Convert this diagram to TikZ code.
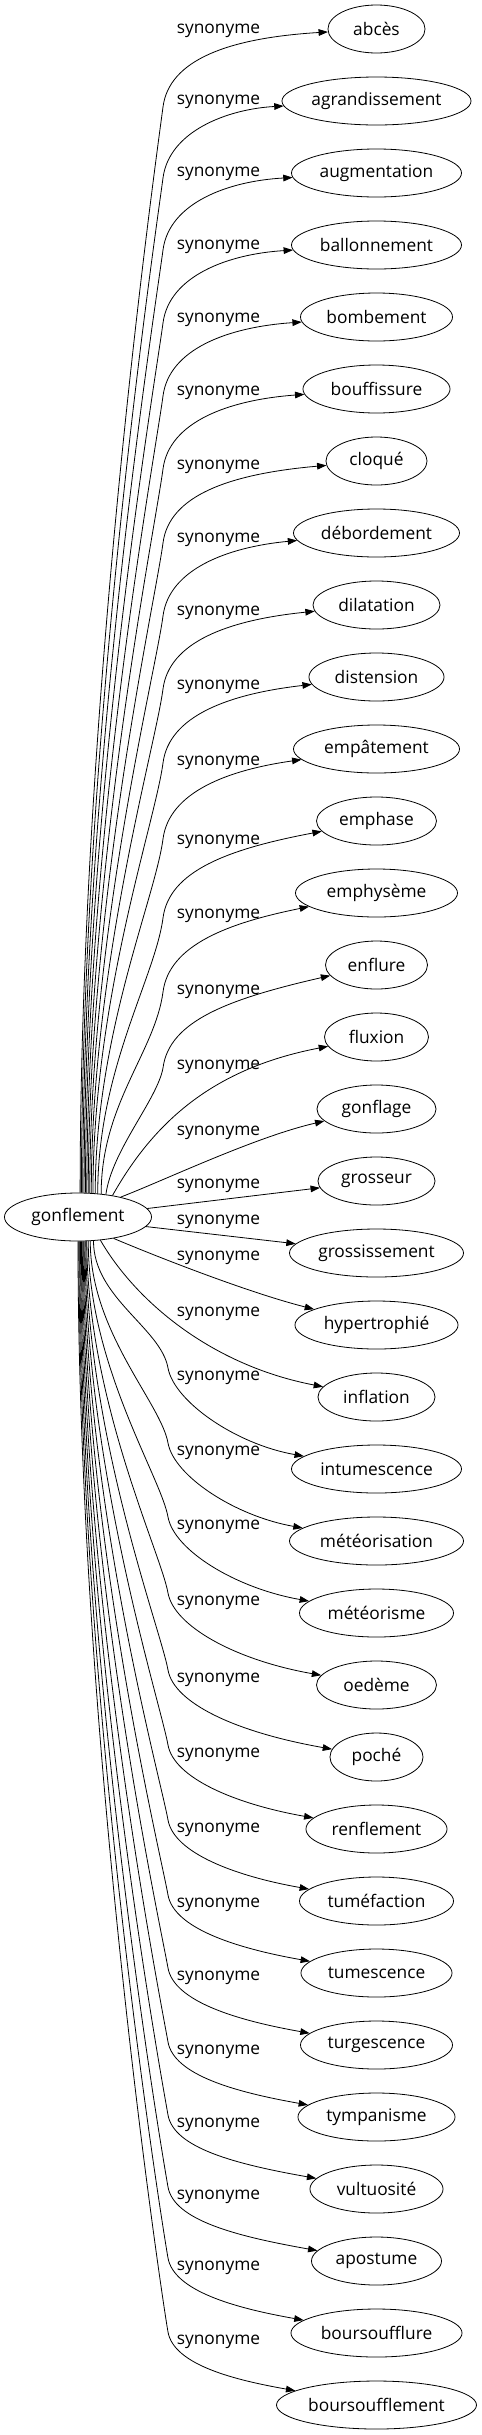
\documentclass[tikz,border=0pt]{standalone}
\usepackage{fontspec}
\setmainfont{Open Sans}
\usetikzlibrary{shapes.geometric,arrows.meta}

\begin{document}
\begin{tikzpicture}[x=0.75pt,y=-0.75pt,>={Triangle[length=7pt,width=5pt]},line width=0.6pt,
		every node/.style={font=\fontsize{13}{15}\selectfont},
		word/.style={draw,ellipse,inner sep=0pt,minimum height=36pt}]
			\useasboundingbox (0,0) rectangle (482,2435);
			% source
			\node[word,minimum width=110.3pt] (g) at (78,1217) {gonflement};
			% targets
			\node[word,minimum width=72.8pt] (abces) at (376.5,29) {abcès};
			\node[word,minimum width=141.8pt] (agrandissement) at (376.5,101) {agrandissement};
			\node[word,minimum width=127.5pt] (augmentation) at (376.5,173) {augmentation};
			\node[word,minimum width=127.5pt] (ballonnement) at (376.5,245) {ballonnement};
			\node[word,minimum width=114pt] (bombement) at (376.5,317) {bombement};
			\node[word,minimum width=110.3pt] (bouffissure) at (376.5,389) {bouffissure};
			\node[word,minimum width=75.8pt] (cloque) at (376.5,461) {cloqué};
			\node[word,minimum width=124.5pt] (debordement) at (376.5,533) {débordement};
			\node[word,minimum width=95.3pt] (dilatation) at (376.5,605) {dilatation};
			\node[word,minimum width=101.3pt] (distension) at (376.5,677) {distension};
			\node[word,minimum width=124.5pt] (empatement) at (376.5,749) {empâtement};
			\node[word,minimum width=90pt] (emphase) at (376.5,821) {emphase};
			\node[word,minimum width=121.5pt] (emphyseme) at (376.5,893) {emphysème};
			\node[word,minimum width=76.5pt] (enflure) at (376.5,965) {enflure};
			\node[word,minimum width=78pt] (fluxion) at (376.5,1037) {fluxion};
			\node[word,minimum width=89.3pt] (gonflage) at (376.5,1109) {gonflage};
			\node[word,minimum width=87.8pt] (grosseur) at (376.5,1181) {grosseur};
			\node[word,minimum width=130.5pt] (grossissement) at (376.5,1253) {grossissement};
			\node[word,minimum width=122.3pt] (hypertrophie) at (376.5,1325) {hypertrophié};
			\node[word,minimum width=87.8pt] (inflation) at (376.5,1397) {inflation};
			\node[word,minimum width=127.5pt] (intumescence) at (376.5,1469) {intumescence};
			\node[word,minimum width=130.5pt] (meteorisation) at (376.5,1541) {météorisation};
			\node[word,minimum width=115.5pt] (meteorisme) at (376.5,1613) {météorisme};
			\node[word,minimum width=90pt] (oedeme) at (376.5,1685) {oedème};
			\node[word,minimum width=69.8pt] (poche) at (376.5,1757) {poché};
			\node[word,minimum width=105.8pt] (renflement) at (376.5,1829) {renflement};
			\node[word,minimum width=115.5pt] (tumefaction) at (376.5,1901) {tuméfaction};
			\node[word,minimum width=113.3pt] (tumescence) at (376.5,1973) {tumescence};
			\node[word,minimum width=114pt] (turgescence) at (376.5,2045) {turgescence};
			\node[word,minimum width=117.8pt] (tympanisme) at (376.5,2117) {tympanisme};
			\node[word,minimum width=99.8pt] (vultuosite) at (376.5,2189) {vultuosité};
			\node[word,minimum width=97.5pt] (apostume) at (376.5,2261) {apostume};
			\node[word,minimum width=128.3pt] (boursoufflure) at (376.5,2333) {boursoufflure};
			\node[word,minimum width=150pt] (boursoufflement) at (376.5,2405) {boursoufflement};
			% labels
			\node (s0) at (218.5,31) {synonyme};
			\node (s1) at (218.5,102) {synonyme};
			\node (s2) at (218.5,174) {synonyme};
			\node (s3) at (218.5,247) {synonyme};
			\node (s4) at (218.5,320) {synonyme};
			\node (s5) at (218.5,393) {synonyme};
			\node (s6) at (218.5,467) {synonyme};
			\node (s7) at (218.5,540) {synonyme};
			\node (s8) at (218.5,613) {synonyme};
			\node (s9) at (218.5,687) {synonyme};
			\node (s10) at (218.5,763) {synonyme};
			\node (s11) at (218.5,842) {synonyme};
			\node (s12) at (218.5,916) {synonyme};
			\node (s13) at (218.5,992) {synonyme};
			\node (s14) at (218.5,1067) {synonyme};
			\node (s15) at (218.5,1133) {synonyme};
			\node (s16) at (218.5,1186) {synonyme};
			\node (s17) at (218.5,1222) {synonyme};
			\node (s18) at (218.5,1258) {synonyme};
			\node (s19) at (218.5,1314) {synonyme};
			\node (s20) at (218.5,1378) {synonyme};
			\node (s21) at (218.5,1453) {synonyme};
			\node (s22) at (218.5,1527) {synonyme};
			\node (s23) at (218.5,1603) {synonyme};
			\node (s24) at (218.5,1680) {synonyme};
			\node (s25) at (218.5,1755) {synonyme};
			\node (s26) at (218.5,1830) {synonyme};
			\node (s27) at (218.5,1905) {synonyme};
			\node (s28) at (218.5,1978) {synonyme};
			\node (s29) at (218.5,2052) {synonyme};
			\node (s30) at (218.5,2125) {synonyme};
			\node (s31) at (218.5,2197) {synonyme};
			\node (s32) at (218.5,2268) {synonyme};
			\node (s33) at (218.5,2342) {synonyme};
			% edges going up
			\draw[->] (g.85) .. controls +(0,-489) and (155,167) .. (163,107) .. controls (169,60) and (228,38) .. (abces);
			\draw[->] (g.82) .. controls +(0,-457) and (155,238) .. (163,178) .. controls (169,131) and (228,109) .. (agrandissement);
			\draw[->] (g.79) .. controls +(0,-424) and (155,310) .. (163,250) .. controls (169,203) and (228,181) .. (augmentation);
			\draw[->] (g.76) .. controls +(0,-392) and (155,383) .. (163,323) .. controls (169,276) and (228,254) .. (ballonnement);
			\draw[->] (g.73) .. controls +(0,-359) and (155,456) .. (163,396) .. controls (169,349) and (228,327) .. (bombement);
			\draw[->] (g.70) .. controls +(0,-326) and (155,529) .. (163,469) .. controls (169,422) and (228,400) .. (bouffissure);
			\draw[->] (g.67) .. controls +(0,-293) and (155,603) .. (163,543) .. controls (169,496) and (228,474) .. (cloque);
			\draw[->] (g.64) .. controls +(0,-260) and (155,676) .. (163,616) .. controls (169,569) and (228,547) .. (debordement);
			\draw[->] (g.61) .. controls +(0,-227) and (155,749) .. (163,689) .. controls (169,642) and (228,620) .. (dilatation);
			\draw[->] (g.58) .. controls +(0,-194) and (155,823) .. (163,763) .. controls (169,716) and (228,694) .. (distension);
			\draw[->] (g.54) .. controls +(0,-159) and (155,899) .. (163,839) .. controls (169,792) and (228,770) .. (empatement);
			\draw[->] (g.50) .. controls +(0,-124) and (155,978) .. (163,918) .. controls (169,871) and (228,849) .. (emphase);
			\draw[->] (g.45) .. controls +(0,-90) and (155,1052) .. (163,992) .. controls (169,945) and (228,923) .. (emphyseme);
			\draw[->] (g.39) .. controls (112,1150) and (157,1100) .. (163,1068) .. controls (169,1021) and (228,999) .. (enflure);
			\draw[->] (g.32) .. controls (155,1120) and (215,1068) .. (fluxion);
			\draw[->] (g.25) .. controls (165,1180) and (255,1137) .. (gonflage);
			\draw[->] (g.7) -- (grosseur);
			% edges going down
			\draw[->] (g.-8) -- (grossissement);
			\draw[->] (g.-31) .. controls (160,1258) and (250,1293) .. (hypertrophie);
			\draw[->] (g.-46) .. controls (135,1300) and (210,1365) .. (inflation);
			\draw[->] (g.-57) .. controls +(0,57) and (161,1328) .. (168,1368) .. controls (174,1401) and (235,1444) .. (intumescence);
			\draw[->] (g.-63) .. controls +(0,91) and (161,1403) .. (168,1443) .. controls (174,1476) and (235,1516) .. (meteorisation);
			\draw[->] (g.-67) .. controls +(0,124) and (161,1477) .. (168,1517) .. controls (174,1550) and (235,1588) .. (meteorisme);
			\draw[->] (g.-70) .. controls +(0,158) and (161,1553) .. (168,1593) .. controls (174,1626) and (235,1660) .. (oedeme);
			\draw[->] (g.-72) .. controls +(0,193) and (161,1630) .. (168,1670) .. controls (174,1703) and (235,1732) .. (poche);
			\draw[->] (g.-74) .. controls +(0,227) and (161,1705) .. (168,1745) .. controls (174,1778) and (235,1804) .. (renflement);
			\draw[->] (g.-76) .. controls +(0,261) and (161,1780) .. (168,1820) .. controls (174,1853) and (235,1876) .. (tumefaction);
			\draw[->] (g.-78) .. controls +(0,294) and (161,1855) .. (168,1895) .. controls (174,1928) and (235,1948) .. (tumescence);
			\draw[->] (g.-80) .. controls +(0,327) and (161,1928) .. (168,1968) .. controls (174,2001) and (235,2020) .. (turgescence);
			\draw[->] (g.-82) .. controls +(0,360) and (161,2002) .. (168,2042) .. controls (174,2075) and (235,2092) .. (tympanisme);
			\draw[->] (g.-84) .. controls +(0,393) and (161,2075) .. (168,2115) .. controls (174,2148) and (235,2164) .. (vultuosite);
			\draw[->] (g.-86) .. controls +(0,426) and (161,2147) .. (168,2187) .. controls (174,2220) and (235,2236) .. (apostume);
			\draw[->] (g.-88) .. controls +(0,458) and (161,2218) .. (168,2258) .. controls (174,2291) and (235,2308) .. (boursoufflure);
			\draw[->] (g.-90) .. controls +(0,491) and (161,2292) .. (168,2332) .. controls (174,2365) and (235,2380) .. (boursoufflement);
		\end{tikzpicture}
\end{document}
